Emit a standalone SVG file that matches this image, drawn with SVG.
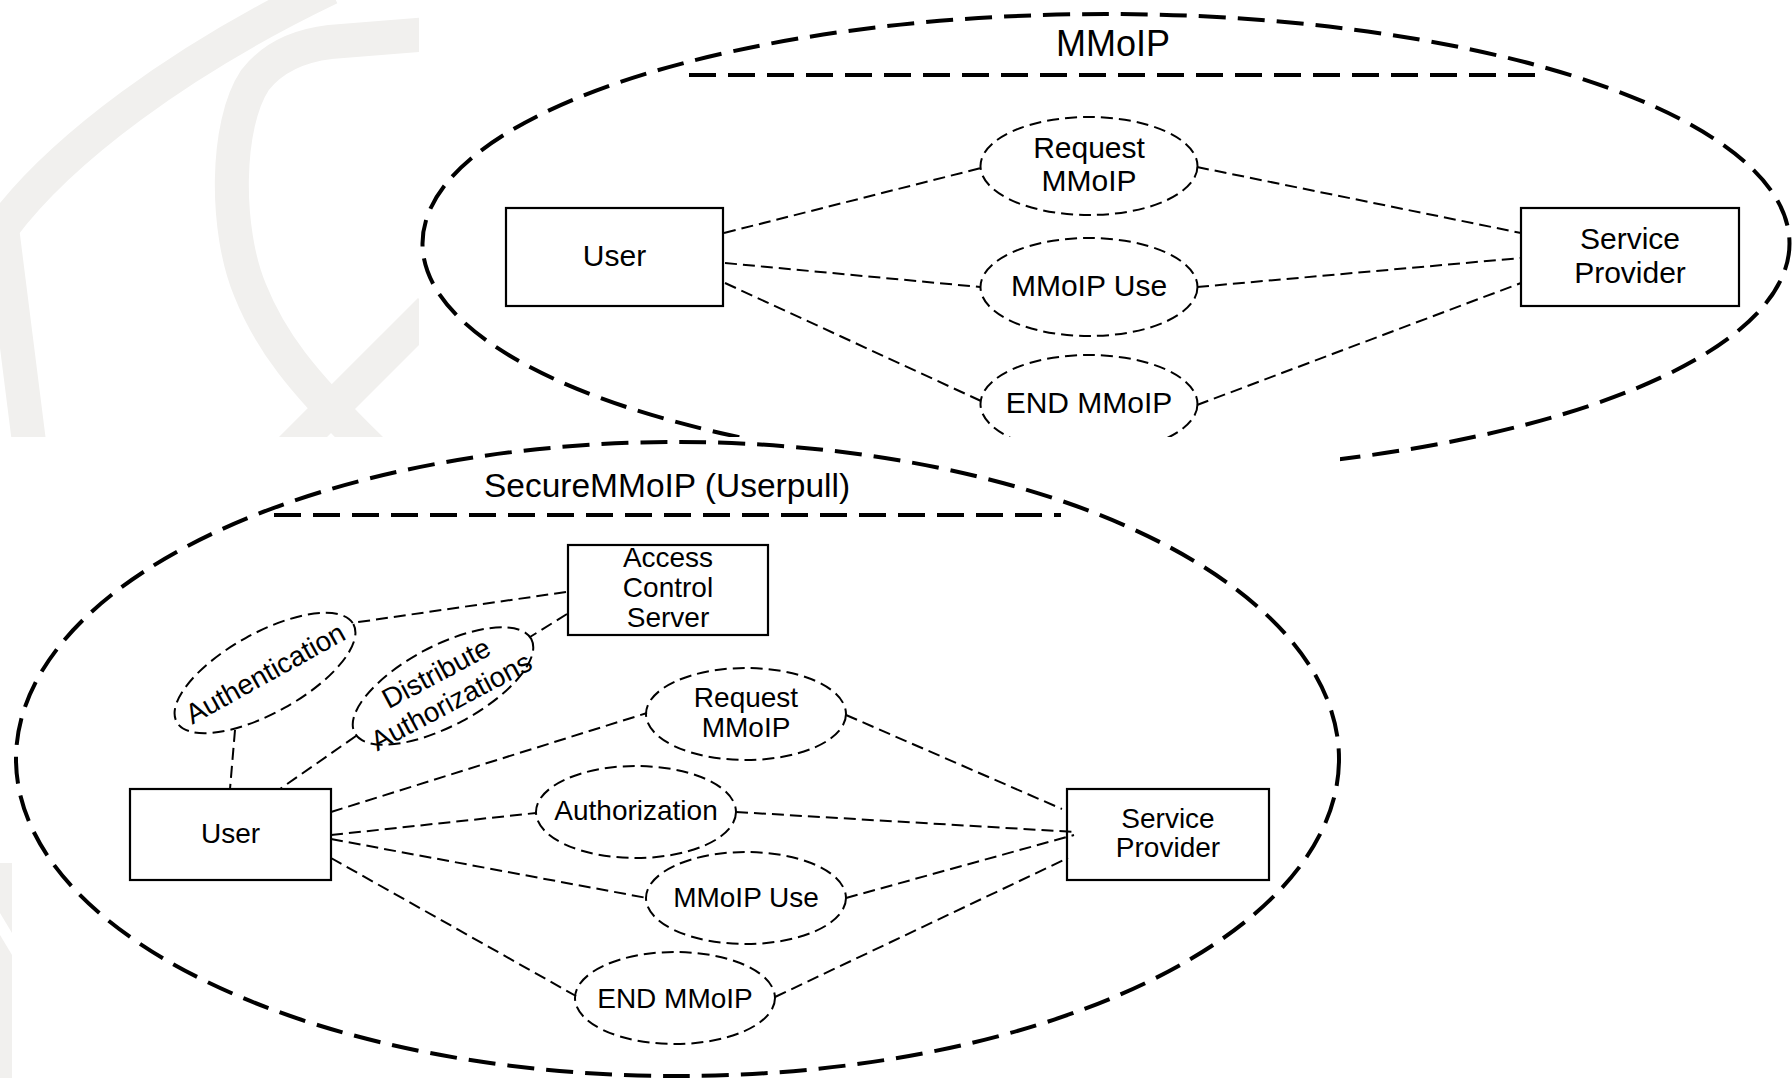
<svg xmlns="http://www.w3.org/2000/svg" width="1792" height="1078" viewBox="0 0 1792 1078">
  <defs>
    <style>
      .frame { fill: none; stroke: #000; stroke-width: 4; stroke-dasharray: 27 12; }
      .rule { stroke: #000; stroke-width: 4; stroke-dasharray: 27 12; }
      .box { fill: #fff; stroke: #000; stroke-width: 2.2; }
      .uc { fill: #fff; stroke: #000; stroke-width: 2; stroke-dasharray: 12 6; }
      .link { fill: none; stroke: #000; stroke-width: 2; stroke-dasharray: 12 6; }
      .wm { fill: none; stroke: #f1f0ee; stroke-width: 34; }
      .wmfill { fill: #f1f0ee; }
      text { font-family: "Liberation Sans", Arial, Helvetica, sans-serif; fill: #000; text-anchor: middle; }
      .title1 { font-size: 36px; }
      .title2 { font-size: 33.5px; }
      .t30 { font-size: 30px; }
      .t28 { font-size: 28px; }
    </style>
    <clipPath id="wmClip"><rect x="0" y="0" width="419" height="437"/></clipPath>
    <clipPath id="upperClip"><path d="M0 0H1792V1078H1340V437H0Z"/></clipPath>
  </defs>

  <rect x="0" y="0" width="1792" height="1078" fill="#fff"/>

  <!-- faint background emblem -->
  <g id="backdrop">
    <g clip-path="url(#wmClip)">
      <path class="wm" d="M30 450 L2 228 C60 150 180 60 330 -12"/>
      <path class="wm" d="M430 34 L330 42 Q280 48 255 80 C225 125 225 230 250 290 C270 340 300 380 372 450"/>
      <path class="wm" d="M430 310 L290 450"/>
    </g>
    <polygon class="wmfill" points="0,863 12,863 12,933 0,913"/>
    <polygon class="wmfill" points="0,935 12,955 12,1078 0,1078"/>
  </g>

  <!-- ===== MMoIP ===== -->
  <g id="mmoip">
    <g id="mmoip-boundary" clip-path="url(#upperClip)">
      <ellipse class="frame" cx="1106" cy="243.5" rx="683.5" ry="229.5"/>
    </g>
    <g id="mmoip-title">
      <text class="title1" x="1113" y="56">MMoIP</text>
      <line class="rule" x1="689" y1="75" x2="1537" y2="75"/>
    </g>

    <g id="u1-user">
      <rect class="box" x="506" y="208" width="217" height="98"/>
      <text class="t30" x="614.5" y="266">User</text>
    </g>
    <g id="u1-request">
      <ellipse class="uc" cx="1089" cy="166" rx="108.5" ry="49"/>
      <text class="t30" x="1089" y="158">Request</text>
      <text class="t30" x="1089" y="191">MMoIP</text>
    </g>
    <g id="u1-use">
      <ellipse class="uc" cx="1089" cy="287" rx="108.5" ry="49"/>
      <text class="t30" x="1089" y="296">MMoIP Use</text>
    </g>
    <g id="u1-end" clip-path="url(#upperClip)">
      <ellipse class="uc" cx="1089" cy="404" rx="108.5" ry="49"/>
      <text class="t30" x="1089" y="413">END MMoIP</text>
    </g>
    <g id="u1-provider">
      <rect class="box" x="1521" y="208" width="218" height="98"/>
      <text class="t30" x="1630" y="249">Service</text>
      <text class="t30" x="1630" y="283">Provider</text>
    </g>

    <g id="u1-connectors">
      <line class="link" x1="724" y1="233" x2="981" y2="168"/>
      <line class="link" x1="725" y1="263" x2="980" y2="287"/>
      <line class="link" x1="725" y1="283" x2="981" y2="401"/>
      <line class="link" x1="1197" y1="167" x2="1521" y2="233"/>
      <line class="link" x1="1197" y1="287" x2="1521" y2="258"/>
      <line class="link" x1="1197" y1="405" x2="1521" y2="283"/>
    </g>
  </g>

  <!-- ===== SecureMMoIP (Userpull) ===== -->
  <g id="secure-mmoip">
    <g id="s-boundary">
      <ellipse class="frame" cx="677.5" cy="759" rx="661.5" ry="317"/>
    </g>
    <g id="s-title">
      <text class="title2" x="667" y="497">SecureMMoIP (Userpull)</text>
      <line class="rule" x1="274" y1="515" x2="1061" y2="515"/>
    </g>

    <g id="s-acs">
      <rect class="box" x="568" y="545" width="200" height="90"/>
      <text class="t28" x="668" y="567">Access</text>
      <text class="t28" x="668" y="597">Control</text>
      <text class="t28" x="668" y="627">Server</text>
    </g>
    <g id="s-authentication" transform="translate(265 673) rotate(-29)">
      <ellipse class="uc" cx="0" cy="0" rx="101" ry="40"/>
      <text class="t28" x="0" y="10">Authentication</text>
    </g>
    <g id="s-distribute" transform="translate(443 686) rotate(-28)">
      <ellipse class="uc" cx="0" cy="0" rx="100" ry="40"/>
      <text class="t28" x="0" y="-5">Distribute</text>
      <text class="t28" x="0" y="27">Authorizations</text>
    </g>
    <g id="s-user">
      <rect class="box" x="130" y="789" width="201" height="91"/>
      <text class="t28" x="230.5" y="843">User</text>
    </g>
    <g id="s-request">
      <ellipse class="uc" cx="746" cy="714" rx="100" ry="46"/>
      <text class="t28" x="746" y="707">Request</text>
      <text class="t28" x="746" y="737">MMoIP</text>
    </g>
    <g id="s-authorization">
      <ellipse class="uc" cx="636" cy="812" rx="100" ry="46"/>
      <text class="t28" x="636" y="820">Authorization</text>
    </g>
    <g id="s-use">
      <ellipse class="uc" cx="746" cy="898" rx="100" ry="46"/>
      <text class="t28" x="746" y="907">MMoIP Use</text>
    </g>
    <g id="s-end">
      <ellipse class="uc" cx="675" cy="998" rx="100" ry="46"/>
      <text class="t28" x="675" y="1008">END MMoIP</text>
    </g>
    <g id="s-provider">
      <rect class="box" x="1067" y="789" width="202" height="91"/>
      <text class="t28" x="1168" y="828">Service</text>
      <text class="t28" x="1168" y="857">Provider</text>
    </g>

    <g id="s-connectors">
      <line class="link" x1="566" y1="592" x2="352" y2="623"/>
      <line class="link" x1="567" y1="614" x2="530" y2="637"/>
      <line class="link" x1="235" y1="730" x2="230" y2="789"/>
      <line class="link" x1="356" y1="736" x2="280" y2="789"/>
      <line class="link" x1="331" y1="812" x2="647" y2="713"/>
      <line class="link" x1="331" y1="835" x2="536" y2="813"/>
      <line class="link" x1="331" y1="839" x2="647" y2="898"/>
      <line class="link" x1="331" y1="858" x2="576" y2="996"/>
      <line class="link" x1="846" y1="715" x2="1062" y2="809"/>
      <line class="link" x1="736" y1="812" x2="1075" y2="832"/>
      <line class="link" x1="846" y1="898" x2="1074" y2="835"/>
      <line class="link" x1="775" y1="997" x2="1068" y2="858"/>
    </g>
  </g>
</svg>
